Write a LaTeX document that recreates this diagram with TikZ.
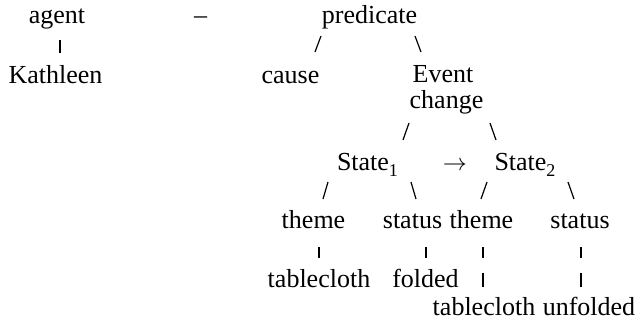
\documentclass[tikz,border=0pt]{standalone}
\usepackage{fontspec}
\setmainfont{Liberation Serif}
\usepackage{tikz}
\usetikzlibrary{positioning, calc}
\newcommand{\lowsub}[1]{\raisebox{-3pt}{\fontsize{9}{9}\selectfont #1}}
\tikzset{
  % Tree word
  word/.style={
    anchor=base, inner sep=0pt, outer sep=0pt,
    font=\fontsize{13}{15}\selectfont
  },
  % Short tree stroke
  link/.style={line width=0.6pt, black, line cap=butt},
}

\begin{document}
\begin{tikzpicture}[x=0.5pt, y=-0.5pt]

  \useasboundingbox (0,0) rectangle (639,322);

  %% Top row
  \node[word] (agent) at (57,23) {agent};
  \node[word] (dash) at (200.5,23) {--};
  \node[word] (pred) at (369.5,23) {predicate};

  %% Second row
  \node[word] (kath) at (55.5,83) {Kathleen};
  \node[word] (cause) at (290.5,83) {cause};
  \node[word] (event) at (443,82) {Event};
  \node[word] (change) at (446.5,108) {change};

  %% States
  \node[word] (state1) at (367.5,170) {State\lowsub{1}};
  \node[word] (arrow) at (455,170) {$\rightarrow$};
  \node[word] (state2) at (525,170) {State\lowsub{2}};

  %% Roles
  \node[word] (theme1) at (313.5,228) {theme};
  \node[word] (status1) at (412.5,228) {status};
  \node[word] (theme2) at (481.5,228) {theme};
  \node[word] (status2) at (580,228) {status};

  %% Fillers
  \node[word] (cloth1) at (319,287) {tablecloth};
  \node[word] (folded) at (425.5,287) {folded};
  \node[word] (cloth2) at (484,315) {tablecloth};
  \node[word] (unfolded) at (589,315) {unfolded};

  %% Strokes
  \draw[link] ([shift={(3,17)}]agent.base) -- ++(0,13);

  \draw[link] ([shift={(-48.5,13)}]pred.base) -- ++(-6,16);
  \draw[link] ([shift={(45.5,13)}]pred.base) -- ++(6,16);

  \draw[link] ([shift={(-37.5,15)}]change.base) -- ++(-6,17);
  \draw[link] ([shift={(43.5,15)}]change.base) -- ++(6,17);

  \draw[link] ([shift={(-39.5,12)}]state1.base) -- ++(-5,17);
  \draw[link] ([shift={(43.5,12)}]state1.base) -- ++(5,17);
  \draw[link] ([shift={(-38,12)}]state2.base) -- ++(-6,17);
  \draw[link] ([shift={(43,12)}]state2.base) -- ++(6,17);

  \draw[link] ([shift={(5.5,19)}]theme1.base) -- ++(0,11);
  \draw[link] ([shift={(13.5,19)}]status1.base) -- ++(0,11);
  \draw[link] ([shift={(1.5,19)}]theme2.base) -- ++(0,11);
  \draw[link] ([shift={(1,19)}]status2.base) -- ++(0,11);
  \draw[link] ([shift={(1.5,45)}]theme2.base) -- ++(0,14);
  \draw[link] ([shift={(1,45)}]status2.base) -- ++(0,14);

\end{tikzpicture}
\end{document}
